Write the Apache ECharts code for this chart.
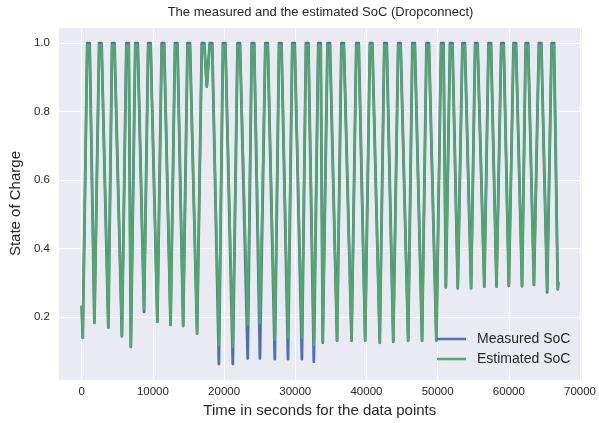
<!DOCTYPE html>
<html>
<head>
<meta charset="utf-8">
<script src="https://cdn.jsdelivr.net/npm/echarts@6/dist/echarts.min.js"></script>
<style>
  html, body { margin: 0; padding: 0; background: #ffffff; }
  #chart { width: 599px; height: 423px; }
</style>
</head>
<body>
<div id="chart"></div>
<script>
// Turning points of the charge / discharge cycles (time in seconds):
// start of run, then for every cycle the start and end of the full-charge
// plateau followed by the bottom of the discharge.
const timeSeconds = [
  0, 150,
  778, 1118, 1785,
  2452, 2792, 3738,
  4265, 4605, 5649,
  6274, 6614, 6904,
  7529, 7869, 8759,
  9342, 9682, 10628,
  11239, 11579, 12483,
  13108, 13448, 14254,
  14865, 15205, 16207,
  16873, 17213, 17573,
  17989, 18329, 19275,
  19844, 20184, 21227,
  21894, 22234, 23319,
  23889, 24229, 25035,
  25799, 26139, 27127,
  27724, 28064, 28982,
  29579, 29919, 30934,
  31504, 31844, 32608,
  33233, 33573, 33863,
  34530, 34870, 35872,
  36483, 36823, 37908,
  38575, 38915, 39819,
  40485, 40825, 41869,
  42508, 42848, 43766,
  44460, 44800, 45858,
  46455, 46795, 47810,
  48435, 48775, 49819,
  50485, 50825, 51158,
  51741, 52081, 52831,
  53484, 53824, 54700,
  55270, 55610, 56555,
  57152, 57492, 58271,
  58937, 59277, 60000,
  60667, 61007, 61855,
  62368, 62708, 63528,
  64223, 64563, 65384,
  66008, 66348, 66876,
  66950
];

// Measured state of charge at those times.
const measuredSoc = [
  0.23, 0.14,
  1, 1, 0.183,
  1, 1, 0.170,
  1, 1, 0.144,
  1, 1, 0.113,
  1, 1, 0.215,
  1, 1, 0.186,
  1, 1, 0.177,
  1, 1, 0.174,
  1, 1, 0.152,
  1, 1, 0.873,
  1, 1, 0.063,
  1, 1, 0.063,
  1, 1, 0.079,
  1, 1, 0.079,
  1, 1, 0.077,
  1, 1, 0.077,
  1, 1, 0.077,
  1, 1, 0.069,
  1, 1, 0.125,
  1, 1, 0.131,
  1, 1, 0.131,
  1, 1, 0.131,
  1, 1, 0.125,
  1, 1, 0.128,
  1, 1, 0.131,
  1, 1, 0.131,
  1, 1, 0.131,
  1, 1, 0.287,
  1, 1, 0.284,
  1, 1, 0.284,
  1, 1, 0.289,
  1, 1, 0.289,
  1, 1, 0.291,
  1, 1, 0.290,
  1, 1, 0.294,
  1, 1, 0.272,
  1, 1, 0.281,
  0.30
];

// Estimated state of charge (Dropconnect network) at the same times.
const estimatedSoc = [
  0.23, 0.14,
  0.994, 0.994, 0.183,
  0.994, 0.994, 0.170,
  0.994, 0.994, 0.144,
  0.994, 0.994, 0.113,
  0.994, 0.994, 0.222,
  0.994, 0.994, 0.186,
  0.994, 0.994, 0.177,
  0.994, 0.994, 0.174,
  0.994, 0.994, 0.152,
  0.994, 0.994, 0.873,
  0.994, 0.994, 0.118,
  0.994, 0.994, 0.113,
  0.994, 0.994, 0.177,
  0.994, 0.994, 0.182,
  0.994, 0.994, 0.133,
  0.994, 0.994, 0.139,
  0.994, 0.994, 0.139,
  0.994, 0.994, 0.118,
  0.994, 0.994, 0.128,
  0.994, 0.994, 0.131,
  0.994, 0.994, 0.131,
  0.994, 0.994, 0.131,
  0.994, 0.994, 0.125,
  0.994, 0.994, 0.128,
  0.994, 0.994, 0.131,
  0.994, 0.994, 0.131,
  0.994, 0.994, 0.131,
  0.994, 0.994, 0.287,
  0.994, 0.994, 0.284,
  0.994, 0.994, 0.284,
  0.994, 0.994, 0.289,
  0.994, 0.994, 0.289,
  0.994, 0.994, 0.291,
  0.994, 0.994, 0.290,
  0.994, 0.994, 0.294,
  0.994, 0.994, 0.280,
  0.994, 0.994, 0.281,
  0.30
];

const seriesNames = ['Measured SoC', 'Estimated SoC'];
const xTickStep = 10000;
const yTickStep = 0.2;

const toPairs = (xs, ys) => xs.map((x, i) => [x, ys[i]]);
const textColor = '#262626';
const font = 'Liberation Sans, Arial, Helvetica, sans-serif';

const chart = echarts.init(document.getElementById('chart'), null, { renderer: 'canvas' });
chart.setOption({
  animation: false,
  backgroundColor: '#ffffff',
  title: {
    text: 'The measured and the estimated SoC (Dropconnect)',
    left: 320.5,
    top: 6,
    padding: 0,
    textAlign: 'center',
    textStyle: { fontFamily: font, fontSize: 13, fontWeight: 'normal', color: textColor }
  },
  grid: {
    left: 57, right: 15, top: 27, bottom: 42,
    show: true, backgroundColor: '#EAEAF2', borderWidth: 0
  },
  legend: {
    orient: 'vertical',
    left: 437,
    top: 329,
    padding: 0,
    itemGap: 0,
    itemWidth: 29,
    itemHeight: 2.5,
    icon: 'rect',
    data: seriesNames,
    textStyle: { fontFamily: font, fontSize: 14, color: textColor, lineHeight: 20, padding: [0, 0, 0, 6] }
  },
  xAxis: {
    type: 'value',
    min: -3345,
    max: 70245,
    name: 'Time in seconds for the data points',
    nameLocation: 'middle',
    nameGap: 20,
    nameTextStyle: { fontFamily: font, fontSize: 15, color: textColor },
    axisLine: { show: false },
    axisTick: { show: false },
    axisLabel: {
      margin: 6,
      fontFamily: font, fontSize: 11.5, color: textColor,
      showMinLabel: false, showMaxLabel: false,
      formatter: v => (Math.abs(v / xTickStep - Math.round(v / xTickStep)) < 1e-6 ? String(Math.round(v)) : '')
    },
    splitLine: { show: true, lineStyle: { color: '#ffffff', width: 1 } }
  },
  yAxis: {
    type: 'value',
    min: 0.016,
    max: 1.047,
    name: 'State of Charge',
    nameLocation: 'middle',
    nameGap: 24,
    nameTextStyle: { fontFamily: font, fontSize: 15, color: textColor },
    axisLine: { show: false },
    axisTick: { show: false },
    axisLabel: {
      margin: 8,
      fontFamily: font, fontSize: 11.5, color: textColor,
      showMinLabel: false, showMaxLabel: false,
      formatter: v => (Math.abs(v / yTickStep - Math.round(v / yTickStep)) < 1e-6 ? v.toFixed(1) : '')
    },
    splitLine: { show: true, lineStyle: { color: '#ffffff', width: 1 } }
  },
  series: [
    {
      name: seriesNames[0],
      type: 'line',
      data: toPairs(timeSeconds, measuredSoc),
      showSymbol: false,
      color: '#4C72B0',
      lineStyle: { color: '#4C72B0', width: 2.8, cap: 'round', join: 'round' },
      z: 2
    },
    {
      name: seriesNames[1],
      type: 'line',
      data: toPairs(timeSeconds, estimatedSoc),
      showSymbol: false,
      color: '#55A868',
      lineStyle: { color: '#55A868', width: 2.3, cap: 'round', join: 'round' },
      z: 3
    }
  ]
});
</script>
</body>
</html>
